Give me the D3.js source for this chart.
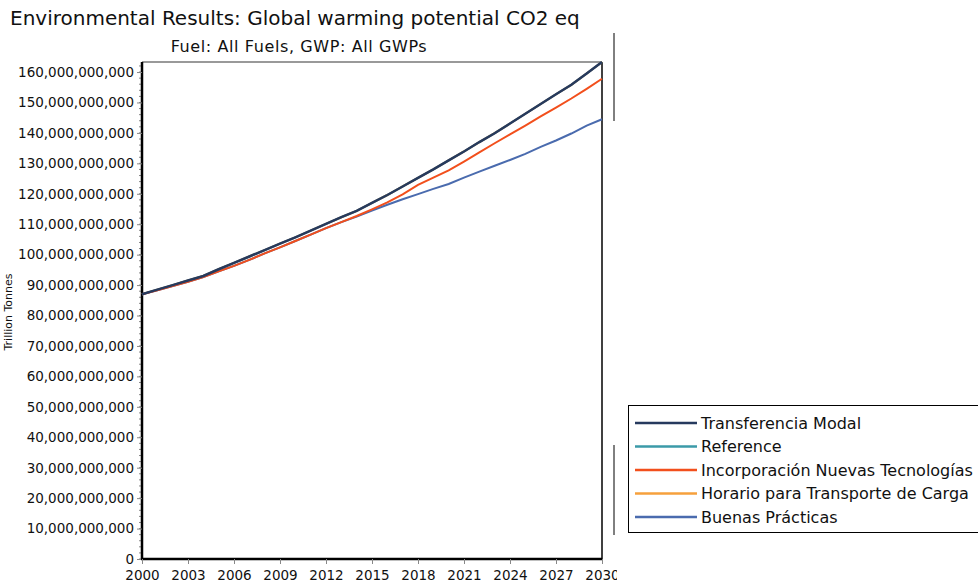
<!DOCTYPE html>
<meta charset="utf-8">
<style>
body { margin: 0; background: #fff; }
svg text { font-family: "DejaVu Sans", Verdana, sans-serif; fill: #111; }
.tick text { font-size: 13.5px; }
</style>
<svg width="978" height="586"></svg>
<script src="https://d3js.org/d3.v7.min.js"></script>
<script>

var years = d3.range(2000, 2031);

// billions of tonnes
var transferencia = [87.0, 88.5, 90.0, 91.5, 93.0, 95.2, 97.3, 99.4, 101.5, 103.6, 105.7,
  107.9, 110.1, 112.3, 114.4, 117.0, 119.6, 122.4, 125.2, 128.0, 131.0,
  133.9, 137.0, 139.9, 143.1, 146.3, 149.5, 152.7, 155.8, 159.5, 163.3];
var reference = [87.0, 88.5, 90.0, 91.5, 93.0, 95.2, 97.3, 99.4, 101.5, 103.6, 105.7,
  107.9, 110.1, 112.3, 114.4, 117.0, 119.6, 122.4, 125.2, 128.0, 131.0,
  133.9, 137.0, 139.9, 143.1, 146.3, 149.5, 152.7, 155.8, 159.5, 163.3];
var incorporacion = [87.0, 88.3, 89.7, 91.1, 92.6, 94.5, 96.3, 98.3, 100.4, 102.4, 104.5,
  106.6, 108.7, 110.7, 112.7, 114.9, 117.2, 119.8, 122.9, 125.3, 127.7,
  130.6, 133.6, 136.6, 139.5, 142.4, 145.4, 148.3, 151.3, 154.5, 157.8];
var horario = [87.0, 88.5, 90.0, 91.5, 93.0, 95.2, 97.3, 99.4, 101.5, 103.6, 105.7,
  107.9, 110.1, 112.3, 114.4, 117.0, 119.6, 122.4, 125.2, 128.0, 131.0,
  133.9, 137.0, 139.9, 143.1, 146.3, 149.5, 152.7, 155.8, 159.5, 163.3];
var buenas = [87.0, 88.3, 89.7, 91.1, 92.6, 94.5, 96.3, 98.3, 100.4, 102.4, 104.5,
  106.6, 108.7, 110.7, 112.5, 114.5, 116.4, 118.2, 119.9, 121.6, 123.2,
  125.3, 127.3, 129.2, 131.1, 133.1, 135.4, 137.5, 139.8, 142.4, 144.5];

var seriesNames = ["Transferencia Modal", "Reference", "Incorporación Nuevas Tecnologías",
  "Horario para Transporte de Carga", "Buenas Prácticas"];
var seriesColors = ["#263a5e", "#3b9aa8", "#f24f1c", "#f6a03c", "#4a6bae"];
var seriesValues = [transferencia, reference, incorporacion, horario, buenas];
var drawOrder = [1, 3, 4, 2, 0];

var xTicks = d3.range(2000, 2031, 3);
var yTicks = d3.range(0, 161, 10);

var svg = d3.select("svg");
var plotL = 142, plotR = 602, plotT = 62, plotB = 559;

var x = d3.scaleLinear().domain([2000, 2030]).range([plotL, plotR]);
var y = d3.scaleLinear().domain([0, 163.3]).range([plotB, plotT]);

svg.append("text").attr("x", 10).attr("y", 25)
  .style("font-size", "20px").text("Environmental Results: Global warming potential CO2 eq");
svg.append("text").attr("x", 299).attr("y", 52).attr("text-anchor", "middle")
  .style("font-size", "16px").style("letter-spacing", "0.6px").text("Fuel: All Fuels, GWP: All GWPs");

// frame
svg.append("line").attr("x1", plotL).attr("x2", plotR).attr("y1", plotT).attr("y2", plotT)
  .attr("stroke", "#777").attr("stroke-width", 1.5);
svg.append("line").attr("x1", plotR).attr("x2", plotR).attr("y1", plotT).attr("y2", plotB)
  .attr("stroke", "#000").attr("stroke-width", 1.5);

// minor ticks
svg.append("g").selectAll("line").data(d3.range(0, 163, 2))
  .enter().append("line")
  .attr("x1", plotL - 3).attr("x2", plotL)
  .attr("y1", function(d) { return y(d); }).attr("y2", function(d) { return y(d); })
  .attr("stroke", "#888");

var fmt = d3.format(",");
var yAxis = svg.append("g").attr("transform", "translate(" + plotL + ",0)")
  .call(d3.axisLeft(y).tickValues(yTicks).tickSize(5).tickPadding(3)
    .tickFormat(function(d) { return fmt(d * 1e9); }));
yAxis.select(".domain").attr("stroke-width", 2.5).attr("d", "M0," + plotT + "V" + (plotB + 1));
yAxis.selectAll(".tick line").attr("stroke", "#888");

svg.append("clipPath").attr("id", "clipx").append("rect")
  .attr("x", 0).attr("y", 0).attr("width", 617).attr("height", 586);
var xAxis = svg.append("g").attr("clip-path", "url(#clipx)")
  .append("g").attr("transform", "translate(0," + plotB + ")")
  .call(d3.axisBottom(x).tickValues(xTicks).tickSize(5).tickPadding(6).tickFormat(d3.format("d")));
xAxis.select(".domain").attr("stroke-width", 2.5).attr("d", "M" + (plotL - 1) + ",0H" + plotR);
xAxis.selectAll(".tick line").attr("stroke", "#888");

svg.append("text")
  .attr("transform", "translate(12," + 312 + ") rotate(-90)")
  .attr("text-anchor", "middle").style("font-size", "11px").text("Trillion Tonnes");

var line = d3.line()
  .x(function(d, i) { return x(years[i]); })
  .y(function(d) { return y(d); });

svg.append("g").selectAll("path").data(drawOrder)
  .enter().append("path")
  .attr("d", function(k) { return line(seriesValues[k]); })
  .attr("fill", "none")
  .attr("stroke", function(k) { return seriesColors[k]; })
  .attr("stroke-width", function(k) { return k == 0 ? 2.5 : 2; });

// stray separators
svg.append("line").attr("x1", 614).attr("x2", 614).attr("y1", 33).attr("y2", 121)
  .attr("stroke", "#000");
svg.append("line").attr("x1", 614).attr("x2", 614).attr("y1", 445).attr("y2", 535)
  .attr("stroke", "#000");

// legend
var legend = svg.append("g");
legend.append("rect").attr("x", 628.5).attr("y", 405.5).attr("width", 360).attr("height", 127)
  .attr("fill", "#fff").attr("stroke", "#000");
var row = legend.selectAll("g.row").data(seriesNames).enter().append("g")
  .attr("transform", function(d, i) { return "translate(0," + (423 + i * 23.5) + ")"; });
row.append("line").attr("x1", 635).attr("x2", 697)
  .attr("stroke", function(d, i) { return seriesColors[i]; }).attr("stroke-width", 2.5);
row.append("text").attr("x", 701).attr("y", 5.5).style("font-size", "16px")
  .text(function(d) { return d; });

</script>
